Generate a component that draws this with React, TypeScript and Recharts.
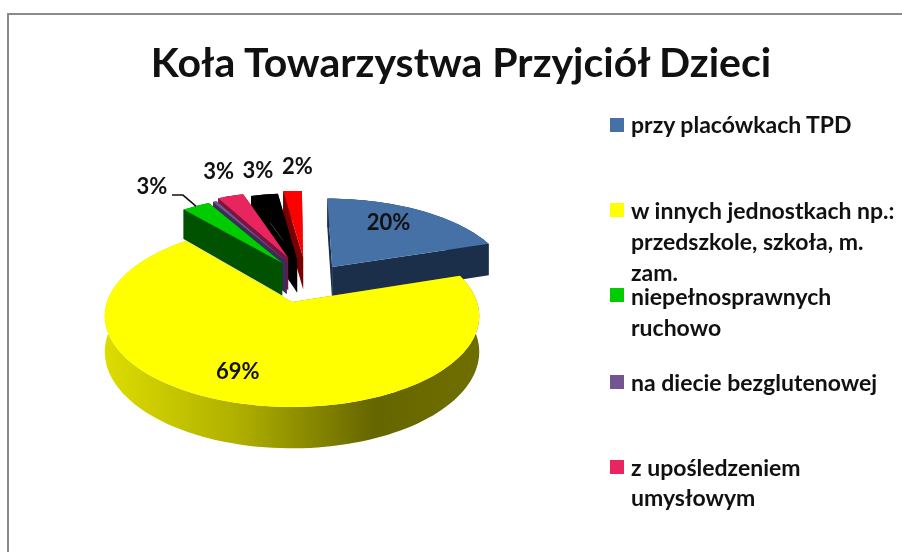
import { PieChart, Pie, Cell, Legend } from "recharts";

const FONT = "Lato, 'Noto Sans', sans-serif";

const CATEGORIES = [
  "przy placówkach TPD",
  "w innych jednostkach np.: przedszkole, szkoła, m. zam.",
  "niepełnosprawnych ruchowo",
  "na diecie bezglutenowej",
  "z upośledzeniem umysłowym",
  "", // cut off in the picture
  "", // cut off in the picture
];
const VALUES = [20, 69, 3, 0.4, 2.8, 2.9, 2];
const COLORS = ["#4571a6", "#ffff00", "#00cc00", "#74558f", "#e9255f", "#000000", "#ff0000"];
const WALLS = ["#1c2f4a", "url(#yellowWall)", "#005200", "#3c2c58", "#7c1440", "#000000", "#7a0000"];

// back to front, so the pie runs counter-clockwise from the right edge of blue
const DRAW_ORDER = [0, 6, 5, 4, 3, 2, 1];

// fake 3D: plane offset of each exploded slice, [across, down] in radius units
const EXPLODE = [
  [0.231, -0.42],
  [0, 0],
  [-0.057, -0.471],
  [-0.031, -0.49],
  [-0.023, -0.54],
  [0.03, -0.51],
  [0.065, -0.55],
];
const TILT = -0.154;
const FLATTEN = 0.48;
const DEPTH = 35;

// radius, nudge x, nudge y for the percent labels
const LABEL_SPOTS = [
  [0.55, 6, -13],
  [0.72, -13, 0],
  [1.0, -44, -21],
  [1.12, 0, 0],
  [1.12, -6, -19],
  [1.12, -3, -18],
  [1.12, 6, -19],
];

const LEGEND_ROWS = [
  { series: 0, swatch: 118, lines: [{ text: "przy placówkach TPD", y: 124 }] },
  {
    series: 1,
    swatch: 203,
    lines: [
      { text: "w innych jednostkach np.:", y: 210 },
      { text: "przedszkole, szkoła, m.", y: 241 },
      { text: "zam.", y: 272 },
    ],
  },
  {
    series: 2,
    swatch: 288,
    lines: [
      { text: "niepełnosprawnych", y: 296 },
      { text: "ruchowo", y: 327 },
    ],
  },
  { series: 3, swatch: 375, lines: [{ text: "na diecie bezglutenowej", y: 382 }] },
  {
    series: 4,
    swatch: 460,
    lines: [
      { text: "z upośledzeniem", y: 467 },
      { text: "umysłowym", y: 497 },
    ],
  },
];

const pieData = DRAW_ORDER.map((i) => ({ name: CATEGORIES[i], value: VALUES[i], series: i }));

function project(cx: number, cy: number, r: number, u: number, v: number) {
  const den = 1 + TILT * v;
  return { x: cx + (r * u) / den, y: cy + (FLATTEN * r * v) / den, drop: DEPTH / den };
}

const toPath = (pts: { x: number; y: number }[]) =>
  "M" + pts.map((p) => `${p.x.toFixed(1)},${p.y.toFixed(1)}`).join("L") + "Z";

const lower = (pts: { x: number; y: number; drop: number }[]) =>
  pts.map((p) => ({ x: p.x, y: p.y + p.drop, drop: p.drop })).reverse();

function Slice3D(props: any) {
  const { cx, cy, outerRadius: r, startAngle, endAngle, fill, series } = props;
  const [du, dv] = EXPLODE[series];
  const steps = Math.max(2, Math.ceil(Math.abs(endAngle - startAngle) / 2));
  const arc = [];
  for (let i = 0; i <= steps; i++) {
    const a = ((startAngle + ((endAngle - startAngle) * i) / steps) * Math.PI) / 180;
    arc.push(project(cx, cy, r, du + Math.cos(a), dv - Math.sin(a)));
  }
  const apex = project(cx, cy, r, du, dv);
  const first = arc[0];
  const last = arc[arc.length - 1];
  const wall = WALLS[series];
  return (
    <g>
      <defs>
        <linearGradient id="yellowWall" gradientUnits="userSpaceOnUse" x1={cx - r} x2={cx + r} y1={0} y2={0}>
          <stop offset="0" stopColor="#dcdc00" />
          <stop offset="0.35" stopColor="#b0b000" />
          <stop offset="0.72" stopColor="#666600" />
          <stop offset="1" stopColor="#6e6e00" />
        </linearGradient>
      </defs>
      <path d={toPath([apex, first, ...lower([apex, first])])} fill={wall} />
      <path d={toPath([apex, last, ...lower([apex, last])])} fill={wall} />
      <path d={toPath([...arc, ...lower(arc)])} fill={wall} />
      <path d={toPath([apex, ...arc])} fill={fill} />
    </g>
  );
}

function SliceLabel(props: any) {
  const { cx, cy, outerRadius: r, midAngle, percent, series } = props;
  if (series === 3) return null;
  const [du, dv] = EXPLODE[series];
  const [dist, nx, ny] = LABEL_SPOTS[series];
  const a = (midAngle * Math.PI) / 180;
  const p = project(cx, cy, r, du + dist * Math.cos(a), dv - dist * Math.sin(a));
  const edge = project(cx, cy, r, du + Math.cos(a), dv - Math.sin(a));
  return (
    <g>
      {series === 2 && (
        <polyline
          points={`${edge.x},${edge.y} ${edge.x - 13},${edge.y - 11} ${edge.x - 24},${edge.y - 11}`}
          fill="none"
          stroke="#111"
          strokeWidth={1.5}
        />
      )}
      <text
        x={p.x + nx}
        y={p.y + ny}
        textAnchor="middle"
        dominantBaseline="central"
        fontFamily={FONT}
        fontWeight={700}
        fontSize={22}
        fill="#111"
      >
        {`${Math.round(percent * 100)}%`}
      </text>
    </g>
  );
}

function LegendBlock() {
  return (
    <div style={{ position: "relative", width: 292, height: 420, fontFamily: FONT, fontWeight: 700, fontSize: 23, color: "#111" }}>
      {LEGEND_ROWS.map((row) => (
        <div key={row.series}>
          <div
            style={{
              position: "absolute",
              left: 0,
              top: row.swatch - 100,
              width: 14,
              height: 14,
              background: COLORS[row.series],
            }}
          />
          {row.lines.map((line) => (
            <div
              key={line.text}
              style={{ position: "absolute", left: 21, top: line.y - 100 - 11, lineHeight: "22px", whiteSpace: "nowrap" }}
            >
              {line.text}
            </div>
          ))}
        </div>
      ))}
    </div>
  );
}

export default function App() {
  return (
    <div
      style={{
        position: "fixed",
        left: 0,
        top: 0,
        width: 902,
        height: 552,
        overflow: "hidden",
        background: "#fff",
        filter: "blur(0.4px)",
      }}
    >
      <div
        style={{
          position: "absolute",
          left: 7,
          top: 13,
          width: 1000,
          height: 1000,
          border: "2px solid #8a8a8a",
        }}
      />
      <div
        style={{
          position: "absolute",
          left: 0,
          width: 922,
          top: 38,
          textAlign: "center",
          fontFamily: FONT,
          fontWeight: 700,
          fontSize: 41,
          lineHeight: "48px",
          color: "#111",
        }}
      >
        Koła Towarzystwa Przyjciół Dzieci
      </div>
      <div style={{ position: "absolute", left: 0, top: 0 }}>
        <PieChart width={902} height={552} margin={{ top: 0, right: 0, bottom: 0, left: 0 }}>
          <Pie
            data={pieData}
            dataKey="value"
            nameKey="name"
            cx={292}
            cy={302}
            innerRadius={0}
            outerRadius={185}
            startAngle={18}
            endAngle={378}
            stroke="none"
            shape={Slice3D}
            label={SliceLabel}
            labelLine={false}
            isAnimationActive={false}
          >
            {pieData.map((d) => (
              <Cell key={d.series} fill={COLORS[d.series]} />
            ))}
          </Pie>
          <Legend
            layout="vertical"
            align="right"
            verticalAlign="top"
            content={() => <LegendBlock />}
            wrapperStyle={{ position: "absolute", left: 610, top: 100, width: 292, height: 420 }}
          />
        </PieChart>
      </div>
    </div>
  );
}
